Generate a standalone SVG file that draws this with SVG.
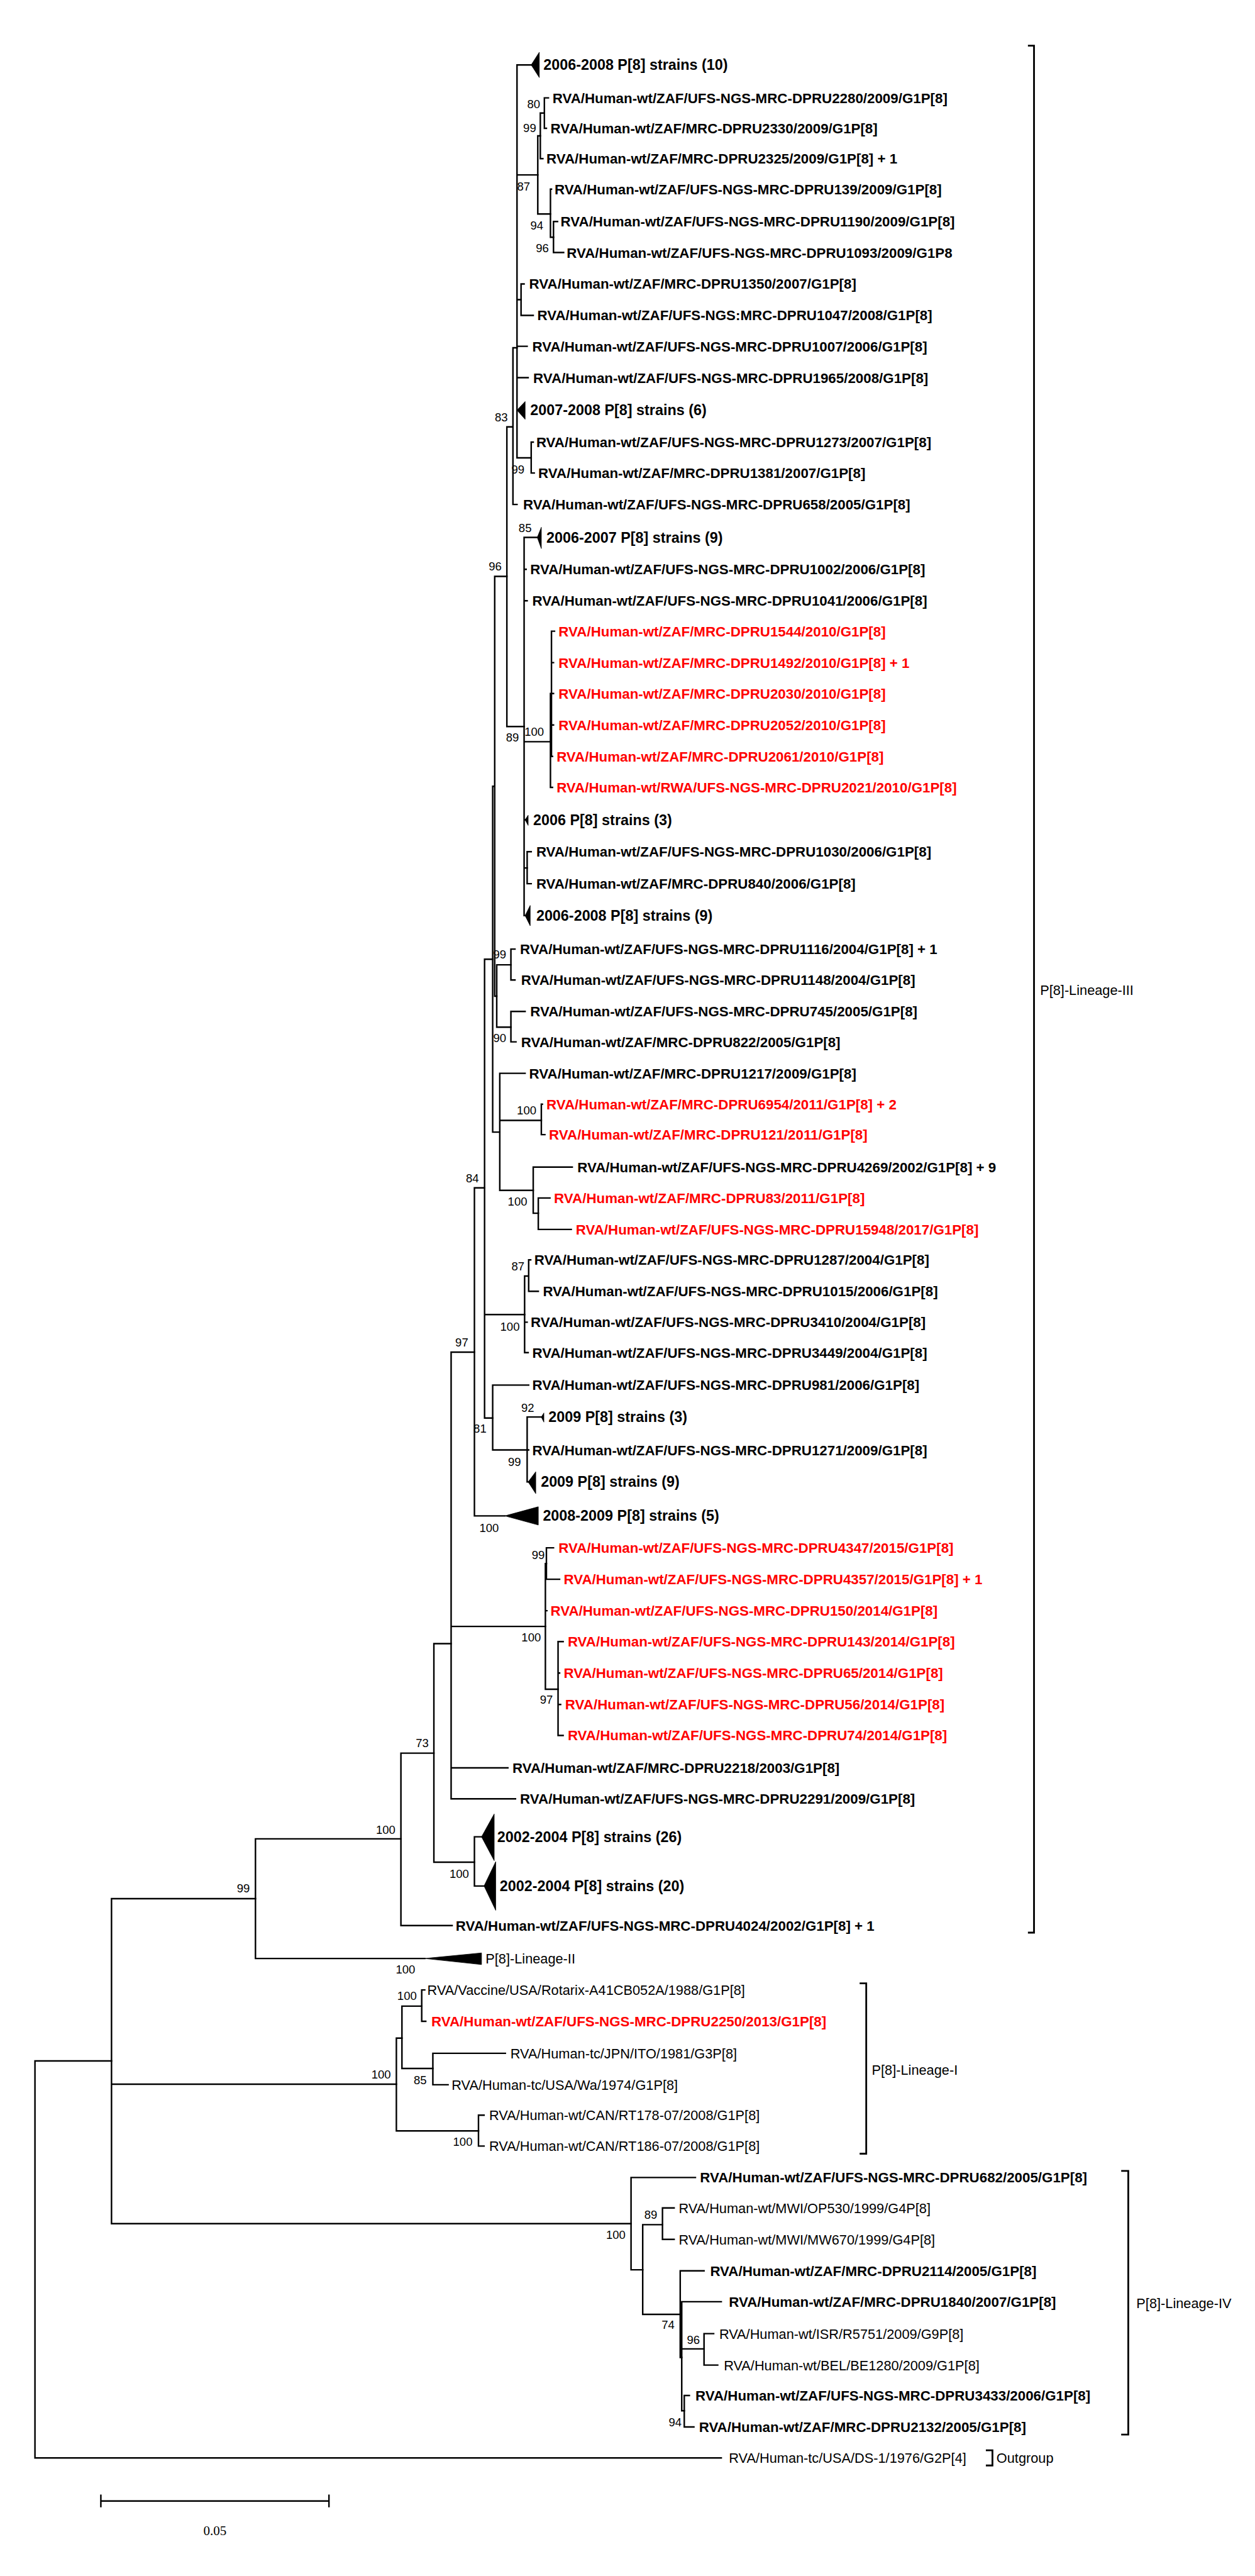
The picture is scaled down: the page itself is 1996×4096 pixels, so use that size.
<svg xmlns="http://www.w3.org/2000/svg" width="1996" height="4096" viewBox="0 0 1996 4096">
<style>
text{font-family:"Liberation Sans",Arial,sans-serif;fill:#000}
.lb{font-size:27.7px;font-weight:bold}
.lr{font-size:27px;font-weight:normal}
.g{font-size:29px;font-weight:bold}
.red{fill:#ff0000}
.bs{font-size:23px;text-anchor:middle}
.sc{font-family:"Liberation Serif","Times New Roman",serif;font-size:26px;text-anchor:middle}
.br{fill:none;stroke:#000;stroke-width:3;stroke-linecap:square}
.bk{fill:none;stroke:#000;stroke-width:3.5}
polygon{fill:#000;stroke:#000;stroke-width:1}
</style>
<rect width="1996" height="4096" fill="#fff"/>
<g transform="scale(0.80614)">
<g id="connectors" class="br">
<path id="root" d="M69,4065V4848M69,4065H220M69,4848H1423"/>
<path d="M220,3745V4386M220,3745H504M220,4111H782M220,4386H1245"/>
<path d="M504,3627V3863M504,3627H791M504,3863H838"/>
<path d="M791,3458V3798M791,3458H856M791,3798H892"/>
<path d="M856,3242V3673M856,3242H890M856,3673H936"/>
<path d="M890,2667V3548M890,2667H936M890,3208H1076M890,3487H1002M890,3548H1017"/>
<path d="M936,3623V3720M936,3623H950M936,3720H955"/>
<path d="M936,2343V2990M936,2343H956M936,2990H996"/>
<path d="M956,1892V2797M956,1892H972M956,2593H1035M956,2797H972"/>
<path d="M972,2732V2860M972,2732H1043M972,2860H1040"/>
<path d="M1040,2795V2923M1040,2795H1068M1040,2860H1043M1040,2923H1042"/>
<path d="M1035,2517V2668M1035,2517H1043M1035,2608H1040M1035,2668H1042"/>
<path d="M1043,2485V2547M1043,2485H1047M1043,2547H1062"/>
<path d="M972,1551V2233M972,1551H976M972,2233H986"/>
<path d="M986,2117V2348M986,2117H1036M986,2210H1068M986,2348H1052"/>
<path d="M1068,2178V2238M1068,2178H1070M1068,2238H1075"/>
<path d="M1052,2302V2393M1052,2302H1129M1052,2393H1062"/>
<path d="M1062,2363V2425M1062,2363H1085M1062,2425H1127"/>
<path d="M976,1137V1965M976,1137H1000M976,1965H980"/>
<path d="M980,1903V2026M980,1903H1008M980,2026H1008"/>
<path d="M1008,1872V1933M1008,1872H1016M1008,1933H1016"/>
<path d="M1008,1995V2055M1008,1995H1036M1008,2055H1018"/>
<path d="M1000,842V1433M1000,842H1012M1000,1433H1034"/>
<path d="M1012,686V995M1012,686H1020M1012,995H1020"/>
<path d="M1020,128V903M1020,128H1048M1020,345H1061M1020,591H1028M1020,683H1040M1020,745H1042M1020,903H1048"/>
<path d="M1061,268V422M1061,268H1066M1061,422H1086"/>
<path d="M1066,223V313M1066,223H1074M1066,313H1071"/>
<path d="M1074,193V253M1074,193H1082M1074,253H1078"/>
<path d="M1086,373V468M1086,373H1088M1086,468H1092"/>
<path d="M1092,437V498M1092,437H1100M1092,498H1112"/>
<path d="M1028,560V622M1028,560H1034M1028,622H1052"/>
<path d="M1048,872V933M1048,872H1052M1048,933H1054"/>
<path d="M1034,1060V1806M1034,1060H1060M1034,1123H1038M1034,1185H1040M1034,1463H1086M1034,1617H1036M1034,1712H1040M1034,1806H1036"/>
<path d="M1086,1368V1553M1086,1368H1088M1086,1553H1090"/>
<path d="M1088,1245V1492M1088,1245H1094M1088,1307H1092M1088,1368H1092M1088,1430H1092M1088,1492H1090"/>
<path d="M1040,1680V1743M1040,1680H1048M1040,1743H1048"/>
<path d="M1076,3084V3332M1076,3084H1078M1076,3177H1079M1076,3332H1101"/>
<path d="M1078,3053V3115M1078,3053H1092M1078,3115H1104"/>
<path d="M1101,3238V3423M1101,3238H1111M1101,3300H1104M1101,3362H1106M1101,3423H1111"/>
<path d="M782,4020V4203M782,4020H793M782,4203H944"/>
<path d="M793,3957V4080M793,3957H832M793,4080H854"/>
<path d="M832,3925V3987M832,3925H838M832,3987H840"/>
<path d="M854,4050V4112M854,4050H997M854,4112H884"/>
<path d="M944,4172V4233M944,4172H955M944,4233H955"/>
<path d="M1245,4295V4477M1245,4295H1372M1245,4477H1268"/>
<path d="M1268,4388V4565M1268,4388H1307M1268,4565H1342"/>
<path d="M1307,4355V4417M1307,4355H1330M1307,4417H1330"/>
<path d="M1342,4479V4650M1342,4479H1389M1342,4650H1345"/>
<path d="M1345,4540V4755M1345,4540H1423M1345,4633H1389M1345,4755H1350"/>
<path d="M1389,4603V4665M1389,4603H1408M1389,4665H1416"/>
<path d="M1350,4725V4787M1350,4725H1360M1350,4787H1369"/>
</g>

<g id="brackets" class="bk">
<path d="M2028,90H2040V3812H2028"/>
<path d="M1696,3912H1709V4248H1696"/>
<path d="M2212,4282H2226V4802H2212"/>
<path d="M1945,4833H1958V4863H1945"/>
</g>
<g id="bracket-labels">
<text class="lr" x="2052" y="1962">P[8]-Lineage-III</text>
<text class="lr" x="1720" y="4092">P[8]-Lineage-I</text>
<text class="lr" x="2242" y="4552">P[8]-Lineage-IV</text>
<text class="lr" x="1966" y="4858">Outgroup</text>
</g>

<g id="leaves">
<g id="n01"><polygon points="1048,128 1064,103 1064,153"/><text class="g" x="1072" y="138">2006-2008 P[8] strains (10)</text></g>
<g id="n02"><text class="lb" x="1090" y="203">RVA/Human-wt/ZAF/UFS-NGS-MRC-DPRU2280/2009/G1P[8]</text></g>
<g id="n03"><text class="lb" x="1086" y="263">RVA/Human-wt/ZAF/MRC-DPRU2330/2009/G1P[8]</text></g>
<g id="n04"><text class="lb" x="1078" y="323">RVA/Human-wt/ZAF/MRC-DPRU2325/2009/G1P[8] + 1</text></g>
<g id="n05"><text class="lb" x="1094" y="383">RVA/Human-wt/ZAF/UFS-NGS-MRC-DPRU139/2009/G1P[8]</text></g>
<g id="n06"><text class="lb" x="1106" y="447">RVA/Human-wt/ZAF/UFS-NGS-MRC-DPRU1190/2009/G1P[8]</text></g>
<g id="n07"><text class="lb" x="1118" y="508">RVA/Human-wt/ZAF/UFS-NGS-MRC-DPRU1093/2009/G1P8</text></g>
<g id="n08"><text class="lb" x="1044" y="570">RVA/Human-wt/ZAF/MRC-DPRU1350/2007/G1P[8]</text></g>
<g id="n09"><text class="lb" x="1060" y="632">RVA/Human-wt/ZAF/UFS-NGS:MRC-DPRU1047/2008/G1P[8]</text></g>
<g id="n10"><text class="lb" x="1050" y="693">RVA/Human-wt/ZAF/UFS-NGS-MRC-DPRU1007/2006/G1P[8]</text></g>
<g id="n11"><text class="lb" x="1052" y="755">RVA/Human-wt/ZAF/UFS-NGS-MRC-DPRU1965/2008/G1P[8]</text></g>
<g id="n12"><polygon points="1020,809 1036,792 1036,827"/><text class="g" x="1046" y="819">2007-2008 P[8] strains (6)</text></g>
<g id="n13"><text class="lb" x="1058" y="882">RVA/Human-wt/ZAF/UFS-NGS-MRC-DPRU1273/2007/G1P[8]</text></g>
<g id="n14"><text class="lb" x="1062" y="943">RVA/Human-wt/ZAF/MRC-DPRU1381/2007/G1P[8]</text></g>
<g id="n15"><text class="lb" x="1032" y="1005">RVA/Human-wt/ZAF/UFS-NGS-MRC-DPRU658/2005/G1P[8]</text></g>
<g id="n16"><polygon points="1060,1060 1068,1040 1068,1082"/><text class="g" x="1078" y="1070">2006-2007 P[8] strains (9)</text></g>
<g id="n17"><text class="lb" x="1046" y="1133">RVA/Human-wt/ZAF/UFS-NGS-MRC-DPRU1002/2006/G1P[8]</text></g>
<g id="n18"><text class="lb" x="1050" y="1195">RVA/Human-wt/ZAF/UFS-NGS-MRC-DPRU1041/2006/G1P[8]</text></g>
<g id="n19"><text class="lb red" x="1102" y="1255">RVA/Human-wt/ZAF/MRC-DPRU1544/2010/G1P[8]</text></g>
<g id="n20"><text class="lb red" x="1102" y="1317">RVA/Human-wt/ZAF/MRC-DPRU1492/2010/G1P[8] + 1</text></g>
<g id="n21"><text class="lb red" x="1102" y="1378">RVA/Human-wt/ZAF/MRC-DPRU2030/2010/G1P[8]</text></g>
<g id="n22"><text class="lb red" x="1102" y="1440">RVA/Human-wt/ZAF/MRC-DPRU2052/2010/G1P[8]</text></g>
<g id="n23"><text class="lb red" x="1098" y="1502">RVA/Human-wt/ZAF/MRC-DPRU2061/2010/G1P[8]</text></g>
<g id="n24"><text class="lb red" x="1098" y="1563">RVA/Human-wt/RWA/UFS-NGS-MRC-DPRU2021/2010/G1P[8]</text></g>
<g id="n25"><polygon points="1036,1617 1042,1608 1042,1628"/><text class="g" x="1052" y="1627">2006 P[8] strains (3)</text></g>
<g id="n26"><text class="lb" x="1058" y="1690">RVA/Human-wt/ZAF/UFS-NGS-MRC-DPRU1030/2006/G1P[8]</text></g>
<g id="n27"><text class="lb" x="1058" y="1753">RVA/Human-wt/ZAF/MRC-DPRU840/2006/G1P[8]</text></g>
<g id="n28"><polygon points="1036,1806 1046,1786 1046,1826"/><text class="g" x="1058" y="1816">2006-2008 P[8] strains (9)</text></g>
<g id="n29"><text class="lb" x="1026" y="1882">RVA/Human-wt/ZAF/UFS-NGS-MRC-DPRU1116/2004/G1P[8] + 1</text></g>
<g id="n30"><text class="lb" x="1028" y="1943">RVA/Human-wt/ZAF/UFS-NGS-MRC-DPRU1148/2004/G1P[8]</text></g>
<g id="n31"><text class="lb" x="1046" y="2005">RVA/Human-wt/ZAF/UFS-NGS-MRC-DPRU745/2005/G1P[8]</text></g>
<g id="n32"><text class="lb" x="1028" y="2065">RVA/Human-wt/ZAF/MRC-DPRU822/2005/G1P[8]</text></g>
<g id="n33"><text class="lb" x="1044" y="2127">RVA/Human-wt/ZAF/MRC-DPRU1217/2009/G1P[8]</text></g>
<g id="n34"><text class="lb red" x="1078" y="2188">RVA/Human-wt/ZAF/MRC-DPRU6954/2011/G1P[8] + 2</text></g>
<g id="n35"><text class="lb red" x="1083" y="2248">RVA/Human-wt/ZAF/MRC-DPRU121/2011/G1P[8]</text></g>
<g id="n36"><text class="lb" x="1139" y="2312">RVA/Human-wt/ZAF/UFS-NGS-MRC-DPRU4269/2002/G1P[8] + 9</text></g>
<g id="n37"><text class="lb red" x="1093" y="2373">RVA/Human-wt/ZAF/MRC-DPRU83/2011/G1P[8]</text></g>
<g id="n38"><text class="lb red" x="1136" y="2435">RVA/Human-wt/ZAF/UFS-NGS-MRC-DPRU15948/2017/G1P[8]</text></g>
<g id="n39"><text class="lb" x="1054" y="2495">RVA/Human-wt/ZAF/UFS-NGS-MRC-DPRU1287/2004/G1P[8]</text></g>
<g id="n40"><text class="lb" x="1071" y="2557">RVA/Human-wt/ZAF/UFS-NGS-MRC-DPRU1015/2006/G1P[8]</text></g>
<g id="n41"><text class="lb" x="1047" y="2618">RVA/Human-wt/ZAF/UFS-NGS-MRC-DPRU3410/2004/G1P[8]</text></g>
<g id="n42"><text class="lb" x="1050" y="2678">RVA/Human-wt/ZAF/UFS-NGS-MRC-DPRU3449/2004/G1P[8]</text></g>
<g id="n43"><text class="lb" x="1050" y="2742">RVA/Human-wt/ZAF/UFS-NGS-MRC-DPRU981/2006/G1P[8]</text></g>
<g id="n44"><polygon points="1068,2795 1073,2787 1073,2805"/><text class="g" x="1082" y="2805">2009 P[8] strains (3)</text></g>
<g id="n45"><text class="lb" x="1050" y="2870">RVA/Human-wt/ZAF/UFS-NGS-MRC-DPRU1271/2009/G1P[8]</text></g>
<g id="n46"><polygon points="1042,2923 1057,2903 1057,2946"/><text class="g" x="1067" y="2933">2009 P[8] strains (9)</text></g>
<g id="n47"><polygon points="996,2990 1062,2972 1062,3008"/><text class="g" x="1071" y="3000">2008-2009 P[8] strains (5)</text></g>
<g id="n48"><text class="lb red" x="1102" y="3063">RVA/Human-wt/ZAF/UFS-NGS-MRC-DPRU4347/2015/G1P[8]</text></g>
<g id="n49"><text class="lb red" x="1112" y="3125">RVA/Human-wt/ZAF/UFS-NGS-MRC-DPRU4357/2015/G1P[8] + 1</text></g>
<g id="n50"><text class="lb red" x="1086" y="3187">RVA/Human-wt/ZAF/UFS-NGS-MRC-DPRU150/2014/G1P[8]</text></g>
<g id="n51"><text class="lb red" x="1120" y="3248">RVA/Human-wt/ZAF/UFS-NGS-MRC-DPRU143/2014/G1P[8]</text></g>
<g id="n52"><text class="lb red" x="1112" y="3310">RVA/Human-wt/ZAF/UFS-NGS-MRC-DPRU65/2014/G1P[8]</text></g>
<g id="n53"><text class="lb red" x="1115" y="3372">RVA/Human-wt/ZAF/UFS-NGS-MRC-DPRU56/2014/G1P[8]</text></g>
<g id="n54"><text class="lb red" x="1120" y="3433">RVA/Human-wt/ZAF/UFS-NGS-MRC-DPRU74/2014/G1P[8]</text></g>
<g id="n55"><text class="lb" x="1011" y="3497">RVA/Human-wt/ZAF/MRC-DPRU2218/2003/G1P[8]</text></g>
<g id="n56"><text class="lb" x="1026" y="3558">RVA/Human-wt/ZAF/UFS-NGS-MRC-DPRU2291/2009/G1P[8]</text></g>
<g id="n57"><polygon points="950,3623 975,3578 975,3670"/><text class="g" x="981" y="3633">2002-2004 P[8] strains (26)</text></g>
<g id="n58"><polygon points="955,3720 978,3672 978,3768"/><text class="g" x="986" y="3730">2002-2004 P[8] strains (20)</text></g>
<g id="n59"><text class="lb" x="899" y="3808">RVA/Human-wt/ZAF/UFS-NGS-MRC-DPRU4024/2002/G1P[8] + 1</text></g>
<g id="n60"><polygon points="838,3863 950,3852 950,3875"/><text class="lr" x="958" y="3873">P[8]-Lineage-II</text></g>
<g id="n61"><text class="lr" x="843" y="3935">RVA/Vaccine/USA/Rotarix-A41CB052A/1988/G1P[8]</text></g>
<g id="n62"><text class="lb red" x="851" y="3997">RVA/Human-wt/ZAF/UFS-NGS-MRC-DPRU2250/2013/G1P[8]</text></g>
<g id="n63"><text class="lr" x="1007" y="4060">RVA/Human-tc/JPN/ITO/1981/G3P[8]</text></g>
<g id="n64"><text class="lr" x="891" y="4122">RVA/Human-tc/USA/Wa/1974/G1P[8]</text></g>
<g id="n65"><text class="lr" x="965" y="4182">RVA/Human-wt/CAN/RT178-07/2008/G1P[8]</text></g>
<g id="n66"><text class="lr" x="965" y="4243">RVA/Human-wt/CAN/RT186-07/2008/G1P[8]</text></g>
<g id="n67"><text class="lb" x="1381" y="4305">RVA/Human-wt/ZAF/UFS-NGS-MRC-DPRU682/2005/G1P[8]</text></g>
<g id="n68"><text class="lr" x="1339" y="4365">RVA/Human-wt/MWI/OP530/1999/G4P[8]</text></g>
<g id="n69"><text class="lr" x="1339" y="4427">RVA/Human-wt/MWI/MW670/1999/G4P[8]</text></g>
<g id="n70"><text class="lb" x="1401" y="4489">RVA/Human-wt/ZAF/MRC-DPRU2114/2005/G1P[8]</text></g>
<g id="n71"><text class="lb" x="1438" y="4550">RVA/Human-wt/ZAF/MRC-DPRU1840/2007/G1P[8]</text></g>
<g id="n72"><text class="lr" x="1419" y="4613">RVA/Human-wt/ISR/R5751/2009/G9P[8]</text></g>
<g id="n73"><text class="lr" x="1428" y="4675">RVA/Human-wt/BEL/BE1280/2009/G1P[8]</text></g>
<g id="n74"><text class="lb" x="1372" y="4735">RVA/Human-wt/ZAF/UFS-NGS-MRC-DPRU3433/2006/G1P[8]</text></g>
<g id="n75"><text class="lb" x="1379" y="4797">RVA/Human-wt/ZAF/MRC-DPRU2132/2005/G1P[8]</text></g>
<g id="n76"><text class="lr" x="1438" y="4858">RVA/Human-tc/USA/DS-1/1976/G2P[4]</text></g>
</g>

<g id="bootstrap">
<text class="bs" x="1053" y="213">80</text>
<text class="bs" x="1045" y="260">99</text>
<text class="bs" x="1033" y="376">87</text>
<text class="bs" x="1059" y="453">94</text>
<text class="bs" x="1070" y="498">96</text>
<text class="bs" x="989" y="831">83</text>
<text class="bs" x="1022" y="934">99</text>
<text class="bs" x="1036" y="1050">85</text>
<text class="bs" x="977" y="1125">96</text>
<text class="bs" x="1054" y="1451">100</text>
<text class="bs" x="1011" y="1463">89</text>
<text class="bs" x="986" y="1890">99</text>
<text class="bs" x="986" y="2056">90</text>
<text class="bs" x="1039" y="2198">100</text>
<text class="bs" x="932" y="2332">84</text>
<text class="bs" x="1021" y="2378">100</text>
<text class="bs" x="1022" y="2506">87</text>
<text class="bs" x="1006" y="2625">100</text>
<text class="bs" x="911" y="2656">97</text>
<text class="bs" x="1041" y="2785">92</text>
<text class="bs" x="947" y="2826">81</text>
<text class="bs" x="1015" y="2891">99</text>
<text class="bs" x="965" y="3022">100</text>
<text class="bs" x="1062" y="3075">99</text>
<text class="bs" x="1048" y="3238">100</text>
<text class="bs" x="1078" y="3361">97</text>
<text class="bs" x="833" y="3446">73</text>
<text class="bs" x="761" y="3617">100</text>
<text class="bs" x="906" y="3704">100</text>
<text class="bs" x="480" y="3733">99</text>
<text class="bs" x="800" y="3893">100</text>
<text class="bs" x="803" y="3945">100</text>
<text class="bs" x="752" y="4100">100</text>
<text class="bs" x="829" y="4111">85</text>
<text class="bs" x="913" y="4233">100</text>
<text class="bs" x="1284" y="4376">89</text>
<text class="bs" x="1215" y="4416">100</text>
<text class="bs" x="1318" y="4594">74</text>
<text class="bs" x="1368" y="4623">96</text>
<text class="bs" x="1332" y="4786">94</text>
</g>

<g id="scale-bar">
<path class="br" d="M199,4933H649M199,4922V4944M649,4922V4944"/>
<text class="sc" x="424" y="5000">0.05</text>
</g>
</g>
</svg>
